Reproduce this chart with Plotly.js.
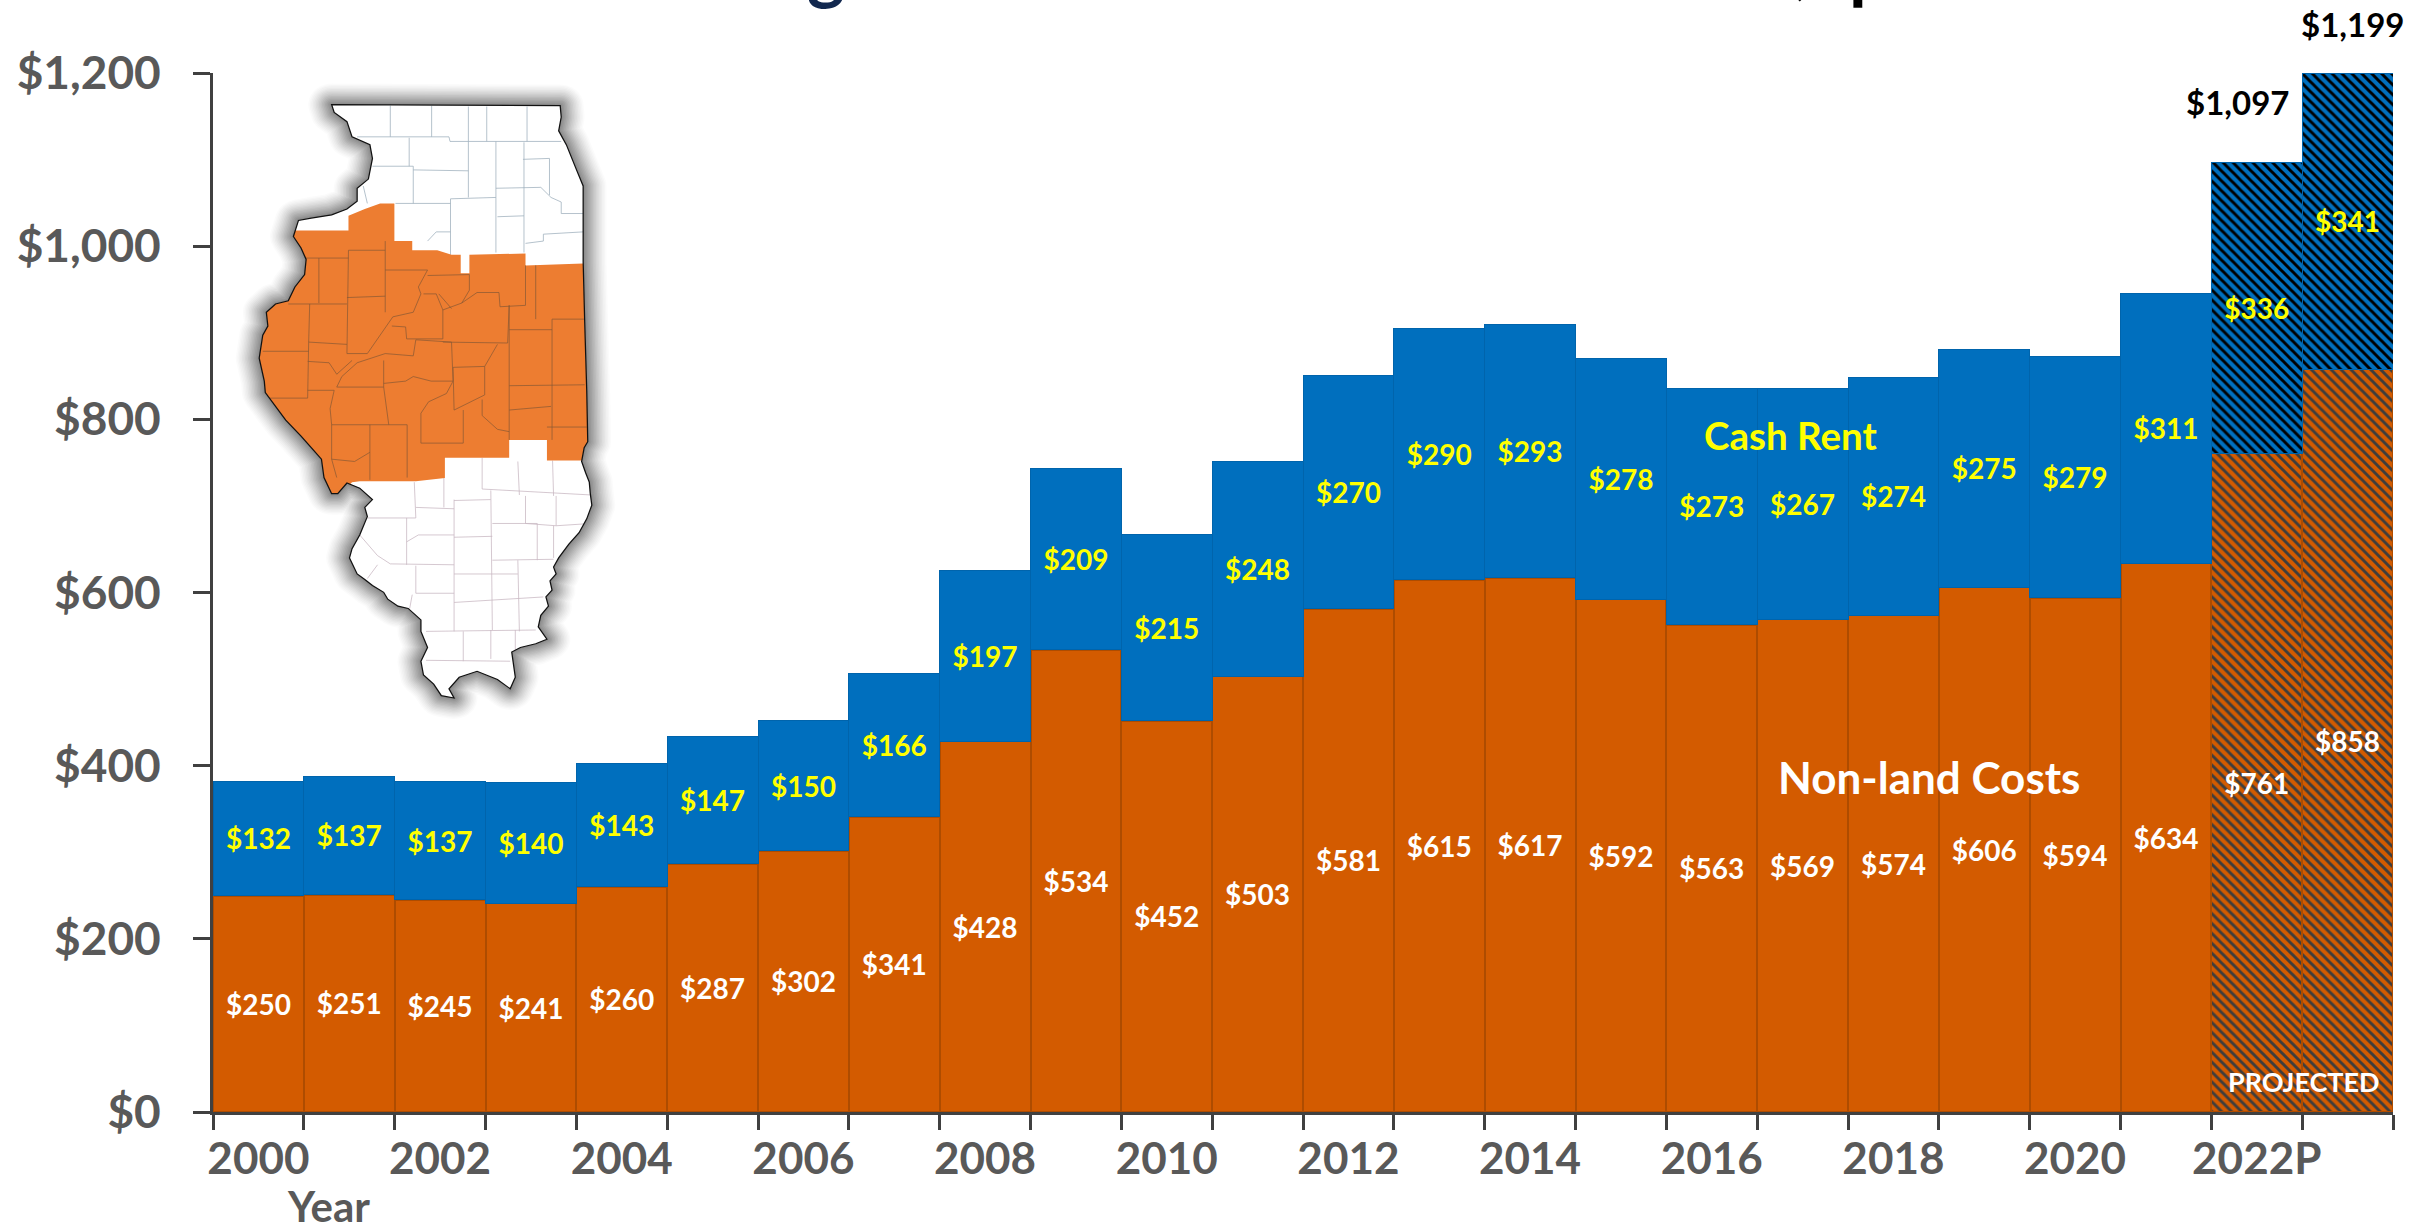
<!DOCTYPE html>
<html><head><meta charset="utf-8">
<script src="https://cdn.plot.ly/plotly-3.0.1.min.js"></script>
<style>html,body{margin:0;padding:0;background:#fff;overflow:hidden}</style>
</head><body><div id="chart" style="width:2428px;height:1226px"></div>
<script>
const years=['2000','2001','2002','2003','2004','2005','2006','2007','2008','2009','2010','2011','2012','2013','2014','2015','2016','2017','2018','2019','2020','2021','2022P','2023P'];
const tickLabels=['2000','','2002','','2004','','2006','','2008','','2010','','2012','','2014','','2016','','2018','','2020','','2022P',''];
const nonLand=[250,251,245,241,260,287,302,341,428,534,452,503,581,615,617,592,563,569,574,606,594,634,761,858];
const cashRent=[132,137,137,140,143,147,150,166,197,209,215,248,270,290,293,278,273,267,274,275,279,311,336,341];
const projectedFlags=years.map(y=>y.endsWith('P'));
const totals=[{i:22,label:'$1,097',v:1097},{i:23,label:'$1,199',v:1199}];

// Illinois inset map, drawn as an illustration (not data)
const outline=[[650,228],[1098,230],[1100,255],[1095,285],[1110,315],[1130,370],[1143,405],[1143,570],[1146,700],[1150,850],[1152,962],[1145,975],[1140,1005],[1148,1030],[1155,1050],[1157,1075],[1160,1100],[1150,1130],[1135,1160],[1115,1185],[1095,1215],[1085,1235],[1090,1250],[1078,1265],[1082,1285],[1070,1300],[1075,1320],[1060,1340],[1055,1365],[1072,1392],[1050,1402],[1020,1410],[1003,1420],[1010,1475],[1000,1500],[975,1480],[935,1462],[900,1475],[880,1500],[890,1520],[865,1515],[850,1490],[830,1470],[825,1440],[838,1410],[825,1375],[825,1350],[800,1325],[780,1320],[760,1305],[752,1290],[730,1275],[715,1262],[700,1250],[685,1215],[690,1195],[705,1165],[720,1125],[715,1105],[730,1088],[705,1063],[680,1052],[662,1075],[650,1075],[635,1040],[630,1000],[610,975],[590,950],[560,915],[520,855],[518,830],[508,780],[515,730],[525,710],[522,680],[540,662],[565,655],[578,625],[597,598],[600,565],[590,540],[575,515],[585,480],[610,475],[650,468],[680,455],[700,438],[700,410],[722,390],[730,345],[725,315],[690,298],[680,265],[655,245]];
const orangeArea=[[480,502],[683,502],[683,470],[715,455],[745,443],[773,443],[773,525],[808,525],[808,545],[857,545],[885,555],[903,555],[903,595],[920,595],[920,555],[1030,552],[1030,578],[1143,574],[1175,574],[1175,1003],[1072,1003],[1072,958],[998,958],[998,997],[872,997],[872,1041],[815,1048],[705,1048],[690,1050],[650,1095],[480,1095]];
const orangeLines=[[[683,545],[680,770]],[[683,545],[755,545]],[[755,525],[755,680]],[[625,562],[625,660]],[[598,562],[683,562]],[[565,662],[680,662]],[[680,648],[755,645]],[[607,662],[605,745],[603,867]],[[515,765],[605,765]],[[605,745],[680,750]],[[603,787],[645,790],[660,815],[690,785]],[[525,867],[603,867]],[[603,850],[655,850]],[[655,850],[647,890],[650,925],[650,1000],[660,1040]],[[650,925],[725,925],[725,1045]],[[725,925],[798,925],[798,1040]],[[660,843],[752,843],[762,925]],[[752,785],[752,843]],[[660,843],[670,820],[700,790],[755,770],[810,775],[815,740],[885,745],[888,830]],[[680,770],[720,770],[745,730],[770,690],[810,680],[825,640],[820,625],[838,588],[755,588]],[[838,600],[920,598]],[[768,710],[795,712],[797,738],[868,738],[868,675],[905,660],[935,637],[978,637],[980,668],[1030,665],[1030,578]],[[830,640],[855,640],[868,675]],[[860,640],[885,672]],[[905,660],[920,632],[920,598]],[[868,745],[995,747],[998,665]],[[888,800],[950,798],[975,750]],[[950,798],[950,860],[890,893],[888,800]],[[752,835],[795,830],[810,820],[845,830],[888,830],[875,857],[840,875],[825,900],[825,965],[908,965],[908,893]],[[998,665],[998,958]],[[998,718],[1082,718]],[[1082,695],[1146,695]],[[1050,695],[1050,578]],[[1082,695],[1082,958]],[[998,840],[1146,838]],[[998,893],[1080,885]],[[1072,930],[1150,930]],[[945,870],[945,905],[975,935],[998,940]],[[650,1000],[695,1005],[725,985]]];
const northLines=[[[765,230],[765,298]],[[846,230],[846,298]],[[918,232],[918,308]],[[954,232],[954,308]],[[1033,232],[1033,308]],[[700,298],[880,298],[882,308],[1100,308]],[[802,300],[802,362]],[[918,308],[918,430]],[[972,308],[972,550]],[[1027,310],[1027,550]],[[730,362],[810,362],[810,443]],[[810,370],[918,372]],[[1025,347],[1077,345],[1077,425]],[[972,410],[1060,408],[1080,430],[1100,440],[1100,465],[1143,465]],[[883,433],[972,430]],[[883,433],[883,555]],[[775,443],[883,443]],[[975,472],[1027,470]],[[1030,530],[1065,525],[1065,510],[1143,505]],[[838,525],[855,505],[883,505]],[[720,443],[712,405]]];
const southLines=[[[945,997],[945,1065]],[[1015,1005],[1018,1078]],[[1083,1003],[1085,1080]],[[945,1065],[1160,1078]],[[870,1041],[870,1105]],[[812,1050],[815,1128]],[[720,1128],[815,1128]],[[815,1105],[890,1108]],[[890,1090],[962,1088]],[[962,1068],[965,1372]],[[890,1088],[890,1375]],[[1030,1080],[1030,1140],[1090,1145],[1158,1140]],[[1090,1080],[1090,1145]],[[797,1128],[797,1230]],[[797,1180],[820,1165],[890,1165]],[[890,1170],[965,1168]],[[965,1140],[1053,1140]],[[1053,1140],[1053,1220]],[[965,1220],[1085,1218]],[[1085,1145],[1085,1215]],[[890,1250],[1015,1250]],[[1015,1220],[1018,1375]],[[705,1165],[740,1210],[765,1228],[890,1230]],[[815,1232],[815,1292]],[[815,1292],[890,1292]],[[890,1312],[1065,1300]],[[808,1295],[803,1325]],[[835,1375],[1050,1372]],[[908,1375],[908,1440]],[[962,1372],[962,1435]],[[1010,1372],[1010,1415]],[[835,1438],[1000,1440]],[[740,1230],[720,1260]]];
const haloWidths=[92,86,80,74,68,62,56,50,44,38,32,26,20,14,8];

const P=a=>a.map(p=>p.join(',')).join(' ');
const lines=(arr,col,w)=>arr.map(l=>`<polyline points="${P(l)}" fill="none" stroke="${col}" stroke-width="${w}"/>`).join('');
const halo=haloWidths.map((w,i)=>`<polygon points="${P(outline)}" fill="#222" stroke="#222" stroke-width="${w}" stroke-linejoin="round" opacity="${(0.012+i*0.004).toFixed(3)}"/>`).join('');
const mapSvg=`<svg xmlns="http://www.w3.org/2000/svg" width="800" height="720" viewBox="0 0 1568 1568" preserveAspectRatio="none"><defs><clipPath id="c"><polygon points="${P(outline)}"/></clipPath></defs>${halo}<polygon points="${P(outline)}" fill="#fff"/><g clip-path="url(#c)">${lines(northLines,'#9fb0bd',1.6)}${lines(southLines,'#c8b8c2',1.6)}<polygon points="${P(orangeArea)}" fill="#ED7D31"/>${lines(orangeLines,'#8a5a34',1.5)}</g><polygon points="${P(outline)}" fill="none" stroke="#111" stroke-width="2.5"/></svg>`;

const L=213,R=2393,T=73,B=1112,W=2428,H=1226,PW=R-L,PH=B-T;
const tOrange=nonLand.map(v=>'$'+v), tBlue=cashRent.map(v=>'$'+v);
const barFont={family:'Lato, sans-serif',size:28,weight:700};
const traces=[
 {type:'bar',x:years,y:nonLand,text:tOrange,textposition:'inside',insidetextanchor:'middle',textangle:0,constraintext:'none',cliponaxis:false,
  textfont:{...barFont,color:'#ffffff'},hoverinfo:'skip',
  marker:{color:'#D35B00',line:{color:'#AE4C00',width:2},pattern:{shape:projectedFlags.map(f=>f?'\\':''),fgcolor:'#3d3d3d',bgcolor:'#D35B00',fgopacity:1,size:7,solidity:0.42,fillmode:'overlay'}}},
 {type:'bar',x:years,y:cashRent,text:tBlue,textposition:'inside',insidetextanchor:'middle',textangle:0,constraintext:'none',cliponaxis:false,
  textfont:{...barFont,color:'#FFFF00'},hoverinfo:'skip',
  marker:{color:'#006FBE',line:{color:'#0064AC',width:1},pattern:{shape:projectedFlags.map(f=>f?'\\':''),fgcolor:'#000000',bgcolor:'#006FBE',fgopacity:1,size:7,solidity:0.42,fillmode:'overlay'}}}
];
const px=x=>(x-L)/PW, py=y=>(B-y)/PH;
const tickFont={family:'Lato, sans-serif',size:46,weight:700,color:'#595959'};
const note=(text,x,y,size,color,anchor)=>({text,xref:'paper',yref:'paper',x:px(x),y:py(y),xanchor:'center',yanchor:anchor||'middle',showarrow:false,font:{family:'Lato, sans-serif',size,weight:700,color}});
const annotations=[
 note('g',826,12,72,'#12284F','bottom'),
 note(',',1802,8,72,'#000000','bottom'),
 note('p',1869,12,72,'#000000','bottom'),
 note('Cash Rent',1790,435,38.5,'#FFFF00'),
 note('Non-land Costs',1929,777,44,'#ffffff'),
 note('PROJECTED',2304,1081,27,'#ffffff'),
 note('Year',328,1206,42,'#595959'),
 {text:totals[0].label,x:years[totals[0].i],xref:'x',y:totals[0].v,yref:'y',xshift:-19,yshift:60,showarrow:false,font:{family:'Lato, sans-serif',size:33,weight:700,color:'#000'}},
 {text:totals[1].label,x:years[totals[1].i],xref:'x',y:totals[1].v,yref:'y',xshift:5,yshift:50,showarrow:false,font:{family:'Lato, sans-serif',size:33,weight:700,color:'#000'}}
];
const layout={
 width:W,height:H,autosize:false,showlegend:false,barmode:'stack',bargap:0,
 paper_bgcolor:'#fff',plot_bgcolor:'#fff',
 margin:{l:L,r:W-R,t:T,b:H-B,pad:0,autoexpand:false},
 xaxis:{type:'category',range:[-0.5,23.5],autorange:false,categoryorder:'array',categoryarray:years,tickmode:'array',tickvals:years,ticktext:tickLabels,tickson:'boundaries',ticks:'outside',ticklen:15,tickwidth:3,tickcolor:'#404040',showline:true,linecolor:'#404040',linewidth:3,showgrid:false,zeroline:false,tickangle:0,tickfont:{...tickFont,size:44},ticklabelstandoff:6,automargin:false},
 yaxis:{range:[0,1200],tick0:0,dtick:200,tickprefix:'$',tickformat:',d',ticks:'outside',ticklen:17,tickwidth:3,tickcolor:'#404040',showline:true,linecolor:'#404040',linewidth:3,showgrid:false,zeroline:false,tickfont:tickFont,ticklabelstandoff:23,automargin:false},
 annotations,
 images:[{source:'data:image/svg+xml;charset=utf-8,'+encodeURIComponent(mapSvg),xref:'paper',yref:'paper',x:px(0),y:py(0),sizex:800/PW,sizey:720/PH,sizing:'stretch',xanchor:'left',yanchor:'top',layer:'above'}]
};
Plotly.newPlot('chart',traces,layout,{displayModeBar:false,staticPlot:true});
</script></body></html>
